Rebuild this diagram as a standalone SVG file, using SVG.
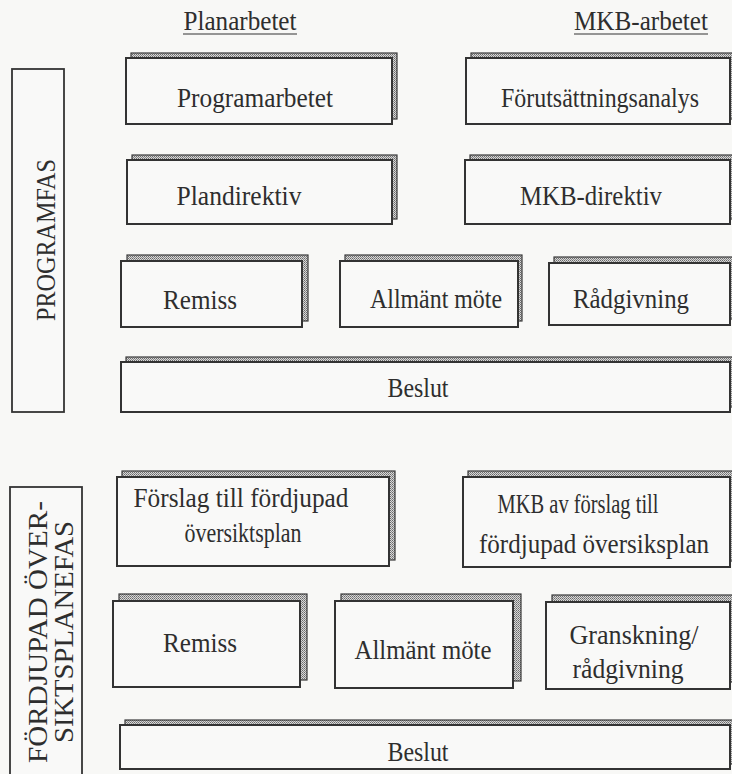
<svg xmlns="http://www.w3.org/2000/svg" width="732" height="774" viewBox="0 0 732 774" font-family="'Liberation Serif', 'DejaVu Serif', serif">
<defs>
<pattern id="hatch" width="2" height="2" patternUnits="userSpaceOnUse">
<rect width="2" height="2" fill="#d8d8d8"/>
<rect width="1" height="1" fill="#6a6a6a"/>
<rect x="1" y="1" width="1" height="1" fill="#8a8a8a"/>
</pattern>
<style>
.bg{fill:#f8f8f6}
.sh{fill:url(#hatch);stroke:#3a3a3a;stroke-width:1.2}
.box{fill:#f9f9f8;stroke:#333;stroke-width:2}
.side{fill:#f9f9f8;stroke:#333;stroke-width:1.8}
.t{font-size:28px;fill:#2e2e2e;text-anchor:middle}
</style>
</defs>
<rect class="bg" width="732" height="774"/>

<g id="headers">
<text class="t" x="240" y="30" textLength="113" lengthAdjust="spacingAndGlyphs">Planarbetet</text>
<line x1="183" y1="34" x2="297" y2="34" stroke="#333" stroke-width="1.2"/>
<text class="t" x="641" y="30" textLength="134" lengthAdjust="spacingAndGlyphs">MKB-arbetet</text>
<line x1="574" y1="34" x2="708" y2="34" stroke="#333" stroke-width="1.2"/>
</g>

<g id="programfas">
<rect class="side" x="12" y="69" width="52" height="343"/>
<text class="t" transform="translate(55,240) rotate(-90)" textLength="162" lengthAdjust="spacingAndGlyphs">PROGRAMFAS</text>
</g>

<g id="programarbetet">
<rect class="sh" x="131" y="53" width="266" height="66"/>
<rect class="box" x="126" y="58" width="266" height="66"/>
<text class="t" x="255" y="107" textLength="156" lengthAdjust="spacingAndGlyphs">Programarbetet</text>
</g>

<g id="forutsattningsanalys">
<rect class="sh" x="471" y="53" width="265" height="66"/>
<rect class="box" x="466" y="58" width="264" height="66"/>
<text class="t" x="600" y="107" textLength="198" lengthAdjust="spacingAndGlyphs">Förutsättningsanalys</text>
</g>

<g id="plandirektiv">
<rect class="sh" x="132" y="155" width="265" height="64"/>
<rect class="box" x="127" y="160" width="265" height="64"/>
<text class="t" x="239" y="205" textLength="125" lengthAdjust="spacingAndGlyphs">Plandirektiv</text>
</g>

<g id="mkb-direktiv">
<rect class="sh" x="470" y="155" width="266" height="64"/>
<rect class="box" x="465" y="160" width="265" height="64"/>
<text class="t" x="591" y="205" textLength="142" lengthAdjust="spacingAndGlyphs">MKB-direktiv</text>
</g>

<g id="remiss1">
<rect class="sh" x="127" y="255" width="181" height="66"/>
<rect class="box" x="121" y="261" width="181" height="66"/>
<text class="t" x="200" y="309" textLength="74" lengthAdjust="spacingAndGlyphs">Remiss</text>
</g>

<g id="allmant1">
<rect class="sh" x="345" y="255" width="177" height="66"/>
<rect class="box" x="340" y="261" width="178" height="66"/>
<text class="t" x="436" y="308" textLength="132" lengthAdjust="spacingAndGlyphs">Allmänt möte</text>
</g>

<g id="radgivning">
<rect class="sh" x="554" y="257" width="185" height="62"/>
<rect class="box" x="549" y="263" width="181" height="62"/>
<text class="t" x="631" y="308" textLength="116" lengthAdjust="spacingAndGlyphs">Rådgivning</text>
</g>

<g id="beslut1">
<rect class="sh" x="126" y="357" width="610" height="50"/>
<rect class="box" x="121" y="362" width="609" height="50"/>
<text class="t" x="418" y="397" textLength="61" lengthAdjust="spacingAndGlyphs">Beslut</text>
</g>

<g id="fordjupadfas">
<rect class="side" x="10" y="487" width="72" height="300"/>
<text class="t" transform="translate(47,632) rotate(-90)" textLength="262" lengthAdjust="spacingAndGlyphs">FÖRDJUPAD ÖVER-</text>
<text class="t" transform="translate(73,632) rotate(-90)" textLength="222" lengthAdjust="spacingAndGlyphs">SIKTSPLANEFAS</text>
</g>

<g id="forslag">
<rect class="sh" x="122" y="471" width="273" height="89"/>
<rect class="box" x="117" y="477" width="272" height="89"/>
<text class="t" x="241" y="507" textLength="215" lengthAdjust="spacingAndGlyphs">Förslag till fördjupad</text>
<text class="t" x="243" y="542" textLength="117" lengthAdjust="spacingAndGlyphs">översiktsplan</text>
</g>

<g id="mkb-forslag">
<rect class="sh" x="468" y="471" width="268" height="90"/>
<rect class="box" x="463" y="477" width="267" height="90"/>
<text class="t" x="578" y="513" textLength="161" lengthAdjust="spacingAndGlyphs">MKB av förslag till</text>
<text class="t" x="594" y="553" textLength="230" lengthAdjust="spacingAndGlyphs">fördjupad översiksplan</text>
</g>

<g id="remiss2">
<rect class="sh" x="119" y="594" width="188" height="86"/>
<rect class="box" x="113" y="601" width="187" height="86"/>
<text class="t" x="200" y="652" textLength="74" lengthAdjust="spacingAndGlyphs">Remiss</text>
</g>

<g id="allmant2">
<rect class="sh" x="341" y="594" width="180" height="87"/>
<rect class="box" x="335" y="601" width="178" height="87"/>
<text class="t" x="423" y="659" textLength="137" lengthAdjust="spacingAndGlyphs">Allmänt möte</text>
</g>

<g id="granskning">
<rect class="sh" x="552" y="595" width="184" height="87"/>
<rect class="box" x="546" y="602" width="184" height="87"/>
<text class="t" x="634" y="644" textLength="129" lengthAdjust="spacingAndGlyphs">Granskning/</text>
<text class="t" x="628" y="678" textLength="111" lengthAdjust="spacingAndGlyphs">rådgivning</text>
</g>

<g id="beslut2">
<rect class="sh" x="125" y="720" width="611" height="44"/>
<rect class="box" x="120" y="725" width="610" height="44"/>
<text class="t" x="418" y="761" textLength="61" lengthAdjust="spacingAndGlyphs">Beslut</text>
</g>

<g id="connectors"></g>
</svg>
